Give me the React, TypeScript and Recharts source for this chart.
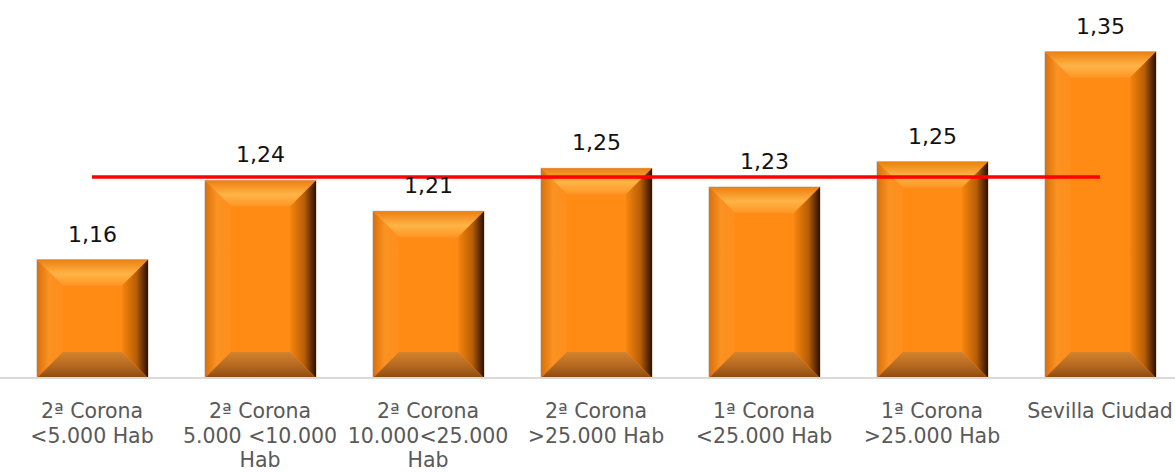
import { ComposedChart, Bar, Line, XAxis, YAxis, LabelList } from 'recharts'

const categorias = [
  ['2ª Corona', '<5.000 Hab'],
  ['2ª Corona', '5.000 <10.000', 'Hab'],
  ['2ª Corona', '10.000<25.000', 'Hab'],
  ['2ª Corona', '>25.000 Hab'],
  ['1ª Corona', '<25.000 Hab'],
  ['1ª Corona', '>25.000 Hab'],
  ['Sevilla Ciudad'],
]
const valores = [1.164, 1.236, 1.208, 1.247, 1.23, 1.253, 1.353]
const media = 1.239

const FONT = '"DejaVu Sans", Verdana, sans-serif'

const data = categorias.map((c, i) => ({
  name: c.join(' '),
  lines: c,
  valor: valores[i],
  media,
}))

function BevelBar(props: any) {
  const { x, y, width: w, height: h } = props
  if (!w || !h || h <= 0) return null
  const b = Math.min(26, w / 2, h / 2)
  const p = (pts: number[][]) => pts.map((q) => q.join(',')).join(' ')
  return (
    <g>
      <rect x={x} y={y} width={w} height={h} fill="#FF8A14" stroke="#c8b8a8" strokeWidth={1} />
      <polygon points={p([[x, y], [x + w, y], [x + w - b, y + b], [x + b, y + b]])} fill="url(#bvTop)" />
      <polygon points={p([[x, y], [x + b, y + b], [x + b, y + h - b], [x, y + h]])} fill="url(#bvLeft)" />
      <polygon points={p([[x + w, y], [x + w, y + h], [x + w - b, y + h - b], [x + w - b, y + b]])} fill="url(#bvRight)" />
      <polygon points={p([[x, y + h], [x + w, y + h], [x + w - b, y + h - b], [x + b, y + h - b]])} fill="url(#bvBottom)" />
    </g>
  )
}

function CatTick({ x, y, payload }: any) {
  const lines: string[] = data[payload.index]?.lines ?? [String(payload.value)]
  return (
    <text x={x} y={y} textAnchor="middle" fill="#595959" fontSize={20.5} fontFamily={FONT}>
      {lines.map((l, i) => (
        <tspan key={i} x={x} y={y + 40 + i * 24.5}>
          {l}
        </tspan>
      ))}
    </text>
  )
}

function ValueLabel({ x, y, width, value }: any) {
  return (
    <text x={x + width / 2} y={y - 18} textAnchor="middle" fill="#111" fontSize={22} fontFamily={FONT}>
      {Number(value).toFixed(2).replace('.', ',')}
    </text>
  )
}

export default function App() {
  return (
    <div style={{ position: 'absolute', left: 0, top: 0, width: 1175, height: 472, overflow: 'hidden', background: '#fff' }}>
      <ComposedChart width={1190} height={472} data={data} margin={{ top: 0, right: 0, left: 0, bottom: 0 }}>
        <defs>
          <linearGradient id="bvTop" x1="0" y1="0" x2="0" y2="1">
            <stop offset="0%" stopColor="#EE7E10" />
            <stop offset="55%" stopColor="#FFB446" />
            <stop offset="100%" stopColor="#FF9524" />
          </linearGradient>
          <linearGradient id="bvLeft" x1="0" y1="0" x2="1" y2="0">
            <stop offset="0%" stopColor="#D9700C" />
            <stop offset="45%" stopColor="#FA9222" />
            <stop offset="100%" stopColor="#FF8E1C" />
          </linearGradient>
          <linearGradient id="bvRight" x1="0" y1="0" x2="1" y2="0">
            <stop offset="0%" stopColor="#F5860F" />
            <stop offset="55%" stopColor="#B85E08" />
            <stop offset="100%" stopColor="#2A1100" />
          </linearGradient>
          <linearGradient id="bvBottom" x1="0" y1="0" x2="0" y2="1">
            <stop offset="0%" stopColor="#D4832E" />
            <stop offset="60%" stopColor="#B0651E" />
            <stop offset="100%" stopColor="#8A4A10" />
          </linearGradient>
        </defs>
        <XAxis
          dataKey="name"
          interval={0}
          height={94}
          tickLine={false}
          tickSize={0}
          tickMargin={0}
          axisLine={{ stroke: '#d9d9d9', strokeWidth: 2 }}
          padding={{ left: 8, right: 6 }}
          tick={<CatTick />}
        />
        <YAxis hide domain={[1.0564, 1.4]} allowDataOverflow />
        <Bar dataKey="valor" barSize={111} shape={<BevelBar />} isAnimationActive={false}>
          <LabelList dataKey="valor" content={<ValueLabel />} />
        </Bar>
        <Line
          dataKey="media"
          type="linear"
          stroke="#FF0000"
          strokeWidth={3.5}
          dot={false}
          activeDot={false}
          isAnimationActive={false}
        />
      </ComposedChart>
    </div>
  )
}
